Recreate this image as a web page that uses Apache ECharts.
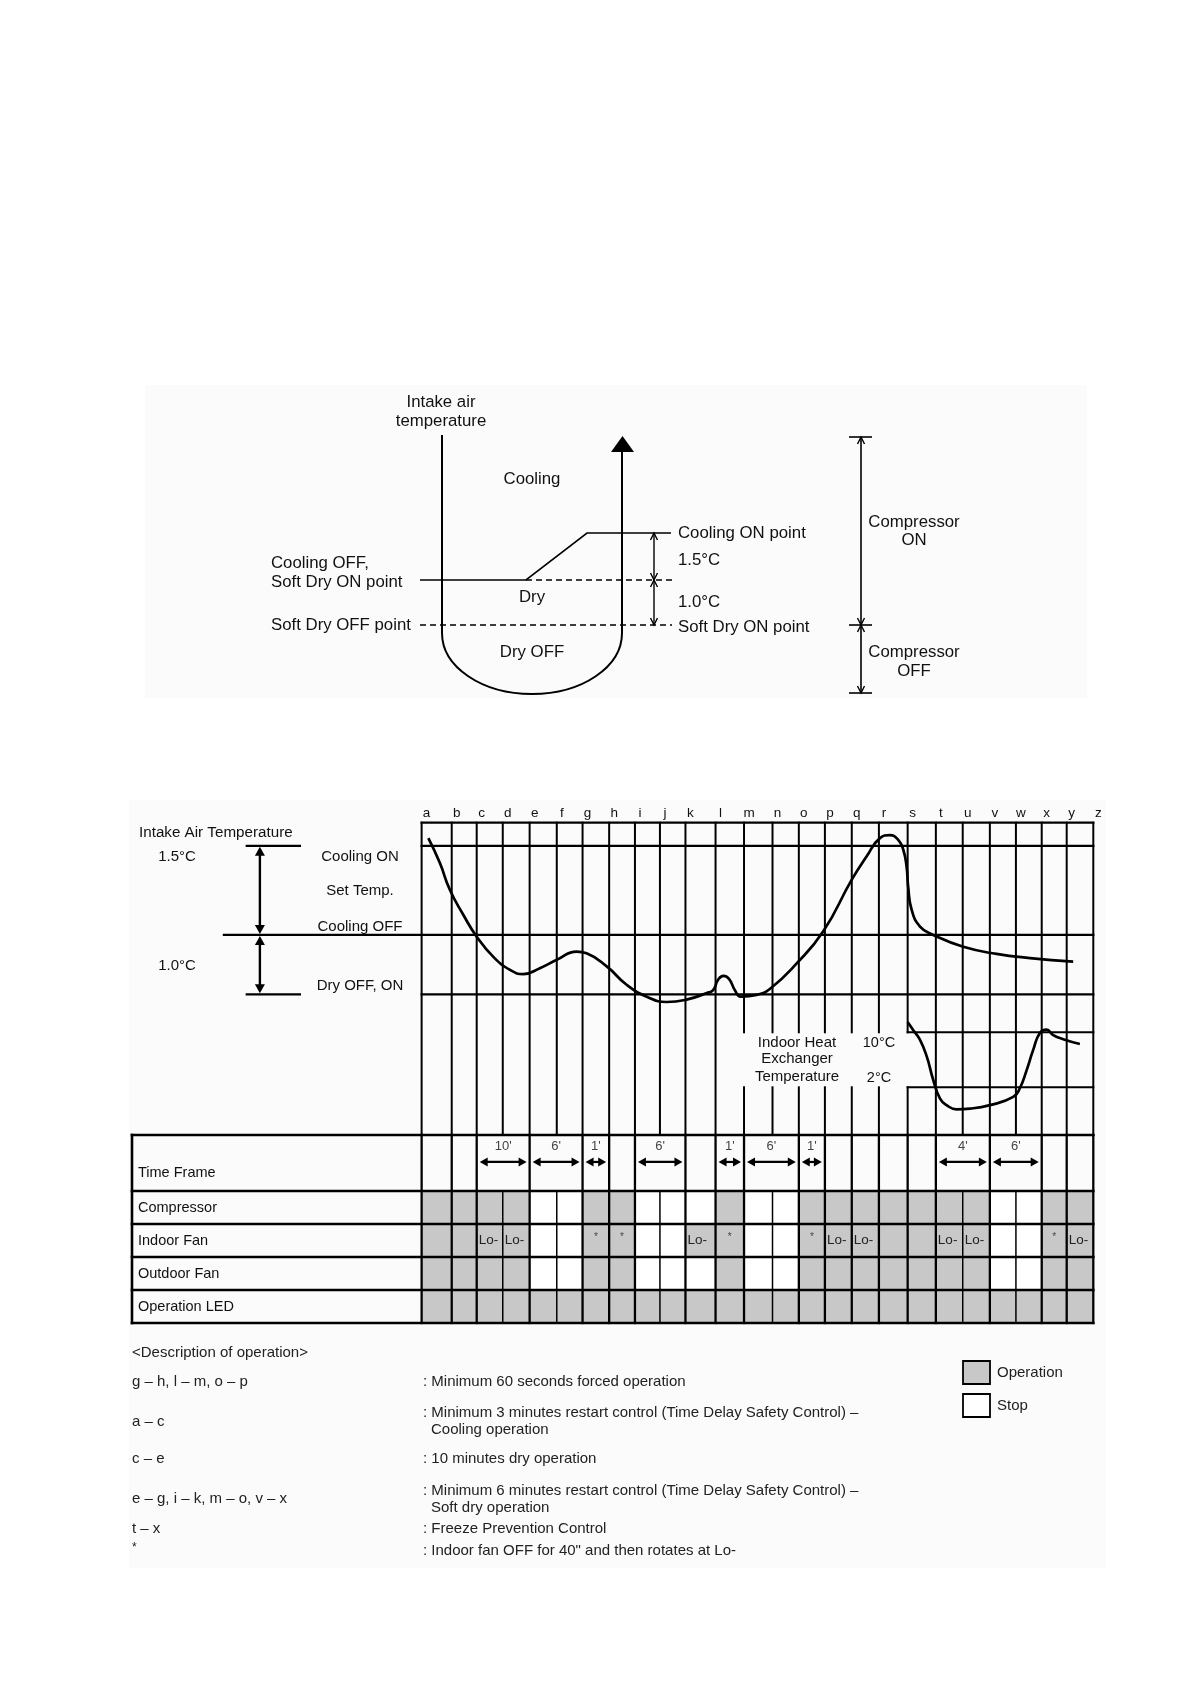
<!DOCTYPE html>
<html>
<head>
<meta charset="UTF-8">
<title>Soft dry operation</title>
<script src="https://cdn.jsdelivr.net/npm/echarts/dist/echarts.min.js"></script>
<style>html,body{margin:0;padding:0;background:#fff;} #main{width:1190px;height:1684px;}</style>
</head>
<body>
<div id="main"></div>
<script>
// ---- data ----
var eventNames = ['a','b','c','d','e','f','g','h','i','j','k','l','m','n','o','p','q','r','s','t','u','v','w','x','y','z'];
// time of each event, in grid steps from a
var eventTimes = [0, 1.12, 2.05, 3.02, 4.02, 5.03, 5.99, 6.98, 7.94, 8.87, 9.82, 10.94, 12.00,
                  13.06, 14.04, 15.01, 16.01, 17.02, 18.09, 19.14, 20.14, 21.15, 22.12, 23.08, 24.01, 25.00];

// intake air temperature, degC relative to Cooling OFF
var intakeTemp = [[0.25,1.63],[0.68,1.21],[1.05,0.76],[1.55,0.34],[2.05,-0.03],[2.67,-0.37],[3.29,-0.59],
  [3.78,-0.66],[4.40,-0.56],[5.03,-0.42],[5.77,-0.28],[6.14,-0.31],[6.89,-0.53],[7.63,-0.84],[8.38,-1.04],
  [9.12,-1.13],[9.86,-1.09],[10.61,-0.98],[10.85,-0.93],[11.03,-0.76],[11.23,-0.69],[11.44,-0.74],[11.66,-0.93],
  [11.88,-1.04],[12.47,-1.01],[12.96,-0.91],[13.96,-0.48],[14.95,0.06],[16.01,0.93],[16.56,1.32],[17.06,1.63],
  [17.43,1.68],[17.74,1.60],[17.93,1.43],[18.05,1.15],[18.11,0.81],[18.24,0.42],[18.55,0.14],[19.04,0.00],
  [20.16,-0.20],[21.40,-0.32],[22.64,-0.39],[24.25,-0.45]];

// indoor heat exchanger temperature, degC
var heatExTemp = [[18.09,11.5],[18.30,10.3],[18.55,8.9],[18.80,6.5],[19.04,3.1],[19.29,0.4],[19.54,-0.6],
  [19.91,-1.2],[20.41,-1.1],[21.15,-0.6],[22.02,0.6],[22.27,1.9],[22.52,4.5],[22.76,7.4],[23.01,9.9],
  [23.26,10.4],[23.51,9.6],[23.88,9.0],[24.50,8.3]];

var coolingOn = 1.5, coolingOff = 0, dryOff = -1.0;
var hexHigh = 10, hexLow = 2;

var rowNames = ['Compressor', 'Indoor Fan', 'Outdoor Fan', 'Operation LED'];
// one value per interval a-b ... y-z, 1 = operation, 0 = stop
var compressor   = [1,1,1,1,0,0,1,1,0,0,0,1,0,0,1,1,1,1,1,1,1,0,0,1,1];
var indoorFan    = [1,1,1,1,0,0,1,1,0,0,1,1,0,0,1,1,1,1,1,1,1,0,0,1,1];
var indoorMark   = ['','','Lo-','Lo-','','','*','*','','','Lo-','*','','','*','Lo-','Lo-','','','Lo-','Lo-','','','*','Lo-'];
var outdoorFan   = [1,1,1,1,0,0,1,1,0,0,0,1,0,0,1,1,1,1,1,1,1,0,0,1,1];
var operationLed = [1,1,1,1,1,1,1,1,1,1,1,1,1,1,1,1,1,1,1,1,1,1,1,1,1];

var timeFrames = [['c','e',"10'"],['e','g',"6'"],['g','h',"1'"],['i','k',"6'"],['l','m',"1'"],
                  ['m','o',"6'"],['o','p',"1'"],['t','v',"4'"],['v','x',"6'"]];

// ---- layout ----
var FONT = '"Liberation Sans", Arial, Helvetica, sans-serif';
var X_MIN = -10.78, X_MAX = 25;
var INTAKE_MIN = -3.37, INTAKE_MAX = 1.89;
var HEX_MIN = -4.94, HEX_MAX = 40.49;
var TF_TOP = -1.697, ROW_MAX = 4;
var boxCols = ['m','n','o','p','q','r','s'];   // lines broken by the heat exchanger caption

function idx(n) { return eventNames.indexOf(n); }

// grid lines of the temperature chart
var segIntake = [], segHex = [];
eventNames.forEach(function (n, i) {
    var t = eventTimes[i];
    if (boxCols.indexOf(n) < 0) {
        segIntake.push([t, INTAKE_MAX, t, INTAKE_MIN, 2]);
    } else {
        segHex.push([t, HEX_MAX, t, hexHigh, 2]);
        segHex.push([t, hexLow, t, HEX_MIN, 2]);
    }
});
segIntake.push([0, INTAKE_MAX, X_MAX, INTAKE_MAX, 2.2]);
segIntake.push([0, coolingOn, X_MAX, coolingOn, 2.2]);
segIntake.push([-7.36, coolingOff, X_MAX, coolingOff, 2.2]);
segIntake.push([0, dryOff, X_MAX, dryOff, 2.2]);
segIntake.push([-6.51, coolingOn, -4.53, coolingOn, 2.2]);
segIntake.push([-6.51, dryOff, -4.53, dryOff, 2.2]);
segHex.push([eventTimes[idx('s')], hexHigh, X_MAX, hexHigh, 2]);
segHex.push([eventTimes[idx('s')], hexLow, X_MAX, hexLow, 2]);

// lines of the state table
var inFrame = [];
timeFrames.forEach(function (f) {
    for (var i = idx(f[0]) + 1; i < idx(f[1]); i++) inFrame.push(i);
});
var segTable = [];
eventNames.forEach(function (n, i) {
    var crosses = inFrame.indexOf(i) < 0;
    segTable.push([eventTimes[i], crosses ? TF_TOP : 0, eventTimes[i], ROW_MAX, crosses ? 2.3 : 1.5]);
});
segTable.push([X_MIN, TF_TOP, X_MIN, ROW_MAX, 2.6]);
[TF_TOP, 0, 1, 2, 3, ROW_MAX].forEach(function (y) {
    segTable.push([X_MIN, y, X_MAX, y, 2.6]);
});

var states = [compressor, indoorFan, outdoorFan, operationLed];
var cells = [];
states.forEach(function (row, r) {
    row.forEach(function (v, c) {
        cells.push({ value: [c, r, v], mark: r === 1 ? indoorMark[c] : '' });
    });
});

// ---- drawing helpers ----
function renderSeg(params, api) {
    var a = api.coord([api.value(0), api.value(1)]);
    var b = api.coord([api.value(2), api.value(3)]);
    return { type: 'line', silent: true,
        shape: { x1: a[0], y1: a[1], x2: b[0], y2: b[1] },
        style: { stroke: '#000', lineWidth: api.value(4), lineCap: 'square' } };
}

function arrowParts(p1, p2, head, half, lw) {
    var dx = p2[0] - p1[0], dy = p2[1] - p1[1];
    var len = Math.sqrt(dx * dx + dy * dy);
    var ux = dx / len, uy = dy / len, nx = -uy, ny = ux;
    function tri(tip, dir) {
        var bx = tip[0] - dir * ux * head, by = tip[1] - dir * uy * head;
        return { type: 'polygon', shape: { points: [tip, [bx + nx * half, by + ny * half], [bx - nx * half, by - ny * half]] },
                 style: { fill: '#000' } };
    }
    return [
        { type: 'line', shape: { x1: p1[0] + ux * head * 0.6, y1: p1[1] + uy * head * 0.6,
                                 x2: p2[0] - ux * head * 0.6, y2: p2[1] - uy * head * 0.6 },
          style: { stroke: '#000', lineWidth: lw } },
        tri(p2, 1), tri(p1, -1)
    ];
}

function txt(s, x, y, size, align, color) {
    return { type: 'text', x: x, y: y, z: 10, silent: true,
        style: { text: s, font: size + 'px ' + FONT, fill: color || '#111',
                 textAlign: align || 'left', textVerticalAlign: 'middle',
                 align: align || 'left', verticalAlign: 'middle' } };
}
function gLine(pts, lw, dash) {
    return { type: 'polyline', z: 10, silent: true, shape: { points: pts },
             style: { stroke: '#000', fill: null, lineWidth: lw || 1.6, lineDash: dash || null } };
}
function gCurve(x1, y1, c1x, c1y, c2x, c2y, x2, y2, lw) {
    return { type: 'bezierCurve', z: 10, silent: true,
             shape: { x1: x1, y1: y1, cpx1: c1x, cpy1: c1y, cpx2: c2x, cpy2: c2y, x2: x2, y2: y2 },
             style: { stroke: '#000', fill: null, lineWidth: lw } };
}
function chev(x, y, up) {
    var d = up ? 7 : -7;
    return gLine([[x - 3.5, y + d], [x, y], [x + 3.5, y + d]], 1.4);
}

// ---- top schematic ----
var T = 16.8;
var topDiagram = [
    { type: 'rect', z: -5, silent: true, shape: { x: 145, y: 385, width: 942, height: 313 }, style: { fill: '#fbfbfb' } },
    { type: 'rect', z: -5, silent: true, shape: { x: 129, y: 800, width: 977, height: 768 }, style: { fill: '#fbfbfb' } },
    txt('Intake air', 441, 402, T, 'center'),
    txt('temperature', 441, 421, T, 'center'),
    gLine([[442, 435], [442, 633]], 2),
    gCurve(442, 633, 442, 667, 482, 694, 532, 694, 2),
    gCurve(532, 694, 582, 694, 622, 667, 622, 633, 2),
    gLine([[622, 633], [622, 450]], 2),
    { type: 'polygon', z: 10, silent: true, shape: { points: [[611, 452], [634, 452], [622.5, 436]] }, style: { fill: '#000' } },
    txt('Cooling', 532, 479, T, 'center'),
    gLine([[420, 580], [526, 580], [587, 533], [671, 533]], 1.6),
    gLine([[526, 580], [672, 580]], 1.3, [6, 4]),
    gLine([[420, 625], [672, 625]], 1.3, [6, 4]),
    gLine([[654, 533], [654, 625]], 1.4),
    chev(654, 533, true), chev(654, 580, false), chev(654, 580, true), chev(654, 625, false),
    txt('Cooling ON point', 678, 533, T),
    txt('1.5°C', 678, 560, T),
    txt('1.0°C', 678, 602, T),
    txt('Soft Dry ON point', 678, 627, T),
    txt('Cooling OFF,', 271, 563, T),
    txt('Soft Dry ON point', 271, 582, T),
    txt('Soft Dry OFF point', 271, 625, T),
    txt('Dry', 532, 597, T, 'center'),
    txt('Dry OFF', 532, 652, T, 'center'),
    gLine([[861, 437], [861, 693]], 1.6),
    gLine([[849, 437], [872, 437]], 1.6),
    gLine([[849, 625], [872, 625]], 1.6),
    gLine([[849, 693], [872, 693]], 1.6),
    chev(861, 437, true), chev(861, 625, false), chev(861, 625, true), chev(861, 693, false),
    txt('Compressor', 914, 522, T, 'center'),
    txt('ON', 914, 540, T, 'center'),
    txt('Compressor', 914, 652, T, 'center'),
    txt('OFF', 914, 671, T, 'center')
];

// ---- captions of the lower chart ----
var D = 15;
var captions = [
    txt('Intake Air Temperature', 139, 833, 15.2),
    txt('1.5°C', 177, 857, 15, 'center'),
    txt('1.0°C', 177, 966, 15, 'center'),
    txt('Cooling ON', 360, 857, 15, 'center'),
    txt('Set Temp.', 360, 891, 15, 'center'),
    txt('Cooling OFF', 360, 927, 15, 'center'),
    txt('Dry OFF, ON', 360, 986, 15, 'center'),
    txt('Indoor Heat', 797, 1043, 15, 'center'),
    txt('Exchanger', 797, 1059, 15, 'center'),
    txt('Temperature', 797, 1077, 15, 'center'),
    txt('10°C', 879, 1043, 14.5, 'center'),
    txt('2°C', 879, 1078, 14.5, 'center'),
    txt('<Description of operation>', 132, 1353, D, 'left', '#222'),
    txt('g – h, l – m, o – p', 132, 1382, D, 'left', '#222'),
    txt(': Minimum 60 seconds forced operation', 423, 1382, D, 'left', '#222'),
    txt('a – c', 132, 1422, D, 'left', '#222'),
    txt(': Minimum 3 minutes restart control (Time Delay Safety Control) –', 423, 1413, D, 'left', '#222'),
    txt('Cooling operation', 431, 1430, D, 'left', '#222'),
    txt('c – e', 132, 1459, D, 'left', '#222'),
    txt(': 10 minutes dry operation', 423, 1459, D, 'left', '#222'),
    txt('e – g, i – k, m – o, v – x', 132, 1499, D, 'left', '#222'),
    txt(': Minimum 6 minutes restart control (Time Delay Safety Control) –', 423, 1491, D, 'left', '#222'),
    txt('Soft dry operation', 431, 1508, D, 'left', '#222'),
    txt('t – x', 132, 1529, D, 'left', '#222'),
    txt(': Freeze Prevention Control', 423, 1529, D, 'left', '#222'),
    txt('*', 132, 1548, 12, 'left', '#222'),
    txt(': Indoor fan OFF for 40" and then rotates at Lo-', 423, 1551, D, 'left', '#222'),
    { type: 'rect', z: 10, silent: true, shape: { x: 963, y: 1361, width: 27, height: 23 }, style: { fill: '#c8c8c8', stroke: '#000', lineWidth: 1.8 } },
    txt('Operation', 997, 1373, D, 'left', '#222'),
    { type: 'rect', z: 10, silent: true, shape: { x: 963, y: 1394, width: 27, height: 23 }, style: { fill: '#fff', stroke: '#000', lineWidth: 1.8 } },
    txt('Stop', 997, 1406, D, 'left', '#222')
];

// ---- chart ----
var chart = echarts.init(document.getElementById('main'));
var option = {
    animation: false,
    backgroundColor: '#fff',
    grid: [
        { left: 132, right: 96.7, top: 822.7, height: 312.3 },
        { left: 132, right: 96.7, top: 1135, height: 188 }
    ],
    xAxis: [
        { type: 'value', gridIndex: 0, min: X_MIN, max: X_MAX, show: false },
        { type: 'value', gridIndex: 1, min: X_MIN, max: X_MAX, show: false }
    ],
    yAxis: [
        { type: 'value', gridIndex: 0, min: INTAKE_MIN, max: INTAKE_MAX, show: false },
        { type: 'value', gridIndex: 0, min: HEX_MIN, max: HEX_MAX, show: false },
        { type: 'value', gridIndex: 1, min: TF_TOP, max: ROW_MAX, inverse: true, show: false }
    ],
    graphic: { elements: topDiagram.concat(captions) },
    series: [
        { type: 'custom', name: 'intakeGrid', xAxisIndex: 0, yAxisIndex: 0, z: 2, silent: true,
          renderItem: renderSeg, data: segIntake },
        { type: 'custom', name: 'hexGrid', xAxisIndex: 0, yAxisIndex: 1, z: 2, silent: true,
          renderItem: renderSeg, data: segHex },
        { type: 'custom', name: 'events', xAxisIndex: 0, yAxisIndex: 0, z: 3, silent: true,
          data: eventTimes.map(function (t, i) { return [t, INTAKE_MAX, i]; }),
          renderItem: function (params, api) {
              var p = api.coord([api.value(0), api.value(1)]);
              return { type: 'text', x: p[0] + 5, y: p[1] - 9,
                  style: { text: eventNames[api.value(2)], font: '13.5px ' + FONT, fill: '#111',
                           textAlign: 'center', textVerticalAlign: 'middle', align: 'center', verticalAlign: 'middle' } };
          } },
        { type: 'custom', name: 'bands', xAxisIndex: 0, yAxisIndex: 0, z: 3, silent: true,
          data: [[-6.02, coolingOn, coolingOff], [-6.02, coolingOff, dryOff]],
          renderItem: function (params, api) {
              var a = api.coord([api.value(0), api.value(1)]);
              var b = api.coord([api.value(0), api.value(2)]);
              return { type: 'group', children: arrowParts([a[0], a[1] + 1], [b[0], b[1] - 1], 9, 5, 2.4) };
          } },
        { type: 'line', name: 'Intake air', xAxisIndex: 0, yAxisIndex: 0, z: 5,
          data: intakeTemp, showSymbol: false, smooth: 0.5,
          lineStyle: { color: '#000', width: 2.7 } },
        { type: 'line', name: 'Heat exchanger', xAxisIndex: 0, yAxisIndex: 1, z: 5,
          data: heatExTemp, showSymbol: false, smooth: 0.5,
          lineStyle: { color: '#000', width: 2.7 } },
        { type: 'custom', name: 'cells', xAxisIndex: 1, yAxisIndex: 2, z: 2, silent: true,
          data: cells,
          renderItem: function (params, api) {
              var c = api.value(0), r = api.value(1);
              var a = api.coord([eventTimes[c], r]);
              var b = api.coord([eventTimes[c + 1], r + 1]);
              var kids = [{ type: 'rect', shape: { x: a[0], y: a[1], width: b[0] - a[0], height: b[1] - a[1] },
                            style: { fill: api.value(2) ? '#c8c8c8' : '#fff' } }];
              var m = cells[params.dataIndex].mark;
              if (m === 'Lo-') {
                  kids.push({ type: 'text', x: a[0] + 2, y: (a[1] + b[1]) / 2,
                      style: { text: m, font: '13.5px ' + FONT, fill: '#222', textAlign: 'left', textVerticalAlign: 'middle',
                               align: 'left', verticalAlign: 'middle' } });
              } else if (m) {
                  kids.push({ type: 'text', x: (a[0] + b[0]) / 2, y: (a[1] + b[1]) / 2 - 3,
                      style: { text: m, font: '10px ' + FONT, fill: '#444', textAlign: 'center', textVerticalAlign: 'middle',
                               align: 'center', verticalAlign: 'middle' } });
              }
              return { type: 'group', children: kids };
          } },
        { type: 'custom', name: 'tableGrid', xAxisIndex: 1, yAxisIndex: 2, z: 3, silent: true,
          renderItem: renderSeg, data: segTable },
        { type: 'custom', name: 'rowNames', xAxisIndex: 1, yAxisIndex: 2, z: 3, silent: true,
          data: [[X_MIN, -0.55, -1]].concat(rowNames.map(function (n, r) { return [X_MIN, r + 0.5, r]; })),
          renderItem: function (params, api) {
              var p = api.coord([api.value(0), api.value(1)]);
              var r = api.value(2);
              return { type: 'text', x: p[0] + 6, y: p[1],
                  style: { text: r < 0 ? 'Time Frame' : rowNames[r], font: '14.5px ' + FONT, fill: '#111',
                           textAlign: 'left', textVerticalAlign: 'middle', align: 'left', verticalAlign: 'middle' } };
          } },
        { type: 'custom', name: 'timeFrames', xAxisIndex: 1, yAxisIndex: 2, z: 4, silent: true,
          data: timeFrames.map(function (f, k) { return [eventTimes[idx(f[0])], eventTimes[idx(f[1])], k]; }),
          renderItem: function (params, api) {
              var t1 = api.value(0), t2 = api.value(1);
              var a = api.coord([t1, -0.88]), b = api.coord([t2, -0.88]);
              var lab = api.coord([(t1 + t2) / 2, -1.36]);
              var kids = arrowParts([a[0] + 3, a[1]], [b[0] - 3, b[1]], 8, 4.5, 2.2);
              kids.push({ type: 'text', x: lab[0], y: lab[1],
                  style: { text: timeFrames[api.value(2)][2], font: '13px ' + FONT, fill: '#444',
                           textAlign: 'center', textVerticalAlign: 'middle', align: 'center', verticalAlign: 'middle' } });
              return { type: 'group', children: kids };
          } }
    ]
};
chart.setOption(option);
</script>
</body>
</html>
